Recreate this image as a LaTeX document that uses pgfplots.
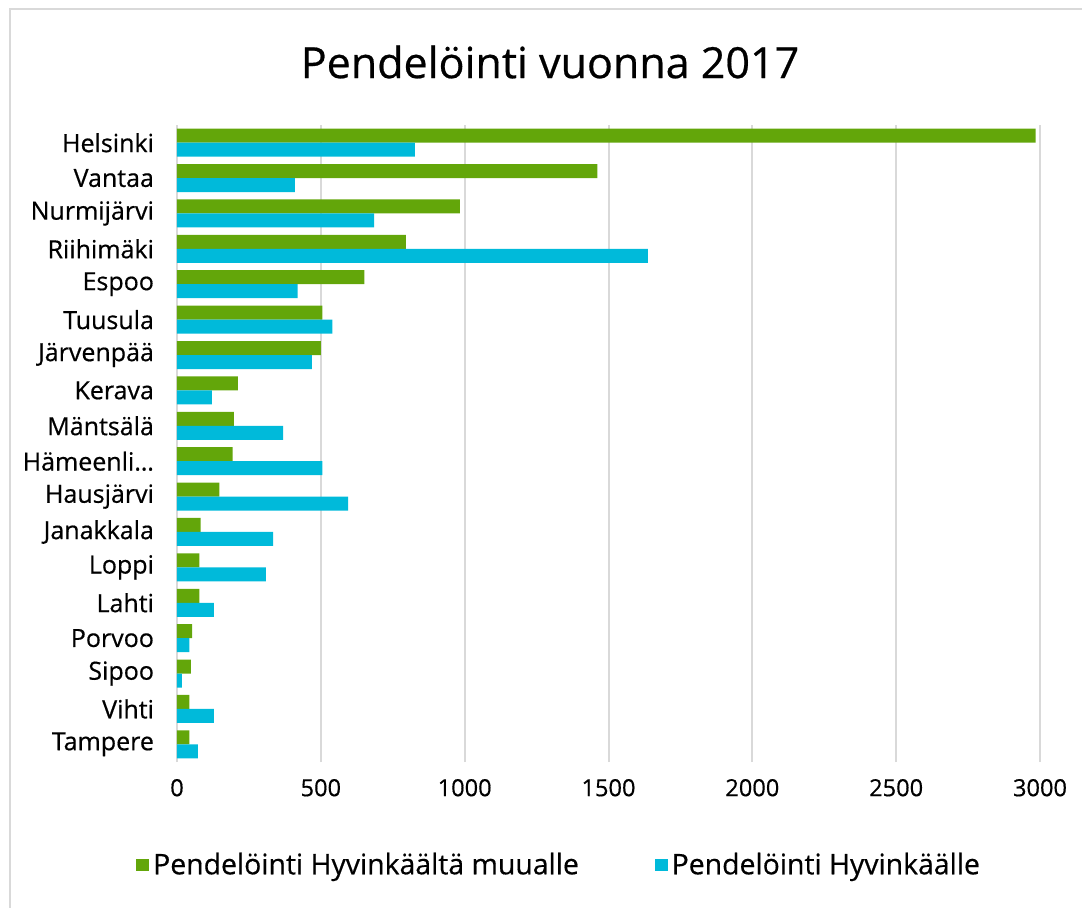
\documentclass[border=0pt]{standalone}
\usepackage{pgfplots}
\pgfplotsset{compat=1.18}
\usepackage{fontspec}
\setmainfont[FakeBold=0.5]{Open Sans}
\definecolor{cgreen}{RGB}{99,166,10}
\definecolor{ccyan}{RGB}{0,186,218}
\definecolor{cgrid}{RGB}{217,217,217}
\begin{document}
\begin{tikzpicture}
\useasboundingbox (0,0) rectangle (541pt,-454pt);
\draw[cgrid, line width=1pt] (5pt,-454pt) -- (5pt,-4.75pt) -- (541pt,-4.75pt);
\node[font=\fontsize{21.5}{25}\selectfont] at (275pt,-31pt) {Pendelöinti vuonna 2017};
\begin{axis}[
  at={(88.5pt,-381pt)}, anchor=south west,
  scale only axis, width=431.5pt, height=318.5pt,
  xmin=0, xmax=3000, ymin=-0.5, ymax=17.5,
  xtick={0,500,...,3000},
  ytick={0,...,17},
  yticklabels={Tampere,Vihti,Sipoo,Porvoo,Lahti,Loppi,Janakkala,Hausjärvi,Hämeenli…,Mäntsälä,Kerava,Järvenpää,Tuusula,Espoo,Riihimäki,Nurmijärvi,Vantaa,Helsinki},
  /pgf/number format/assume math mode=true,
  /pgf/number format/1000 sep={},
  xmajorgrids, major grid style={cgrid, line width=1pt},
  axis line style={draw=none},
  tick style={draw=none},
  major tick length=0pt,
  xticklabel style={font=\fontsize{11.8}{14}\selectfont, yshift=-5pt},
  yticklabel style={font=\fontsize{12.5}{15}\selectfont, xshift=-8pt},
  xbar, bar width=7pt,
  legend columns=2,
  legend style={at={(0.444,-0.1617)}, anchor=center, draw=none, fill=none,
    font=\fontsize{14.2}{17}\selectfont,
    /tikz/every even column/.append style={column sep=36pt}},
  legend image code/.code={\fill[#1] (0pt,-3.2pt) rectangle (6.4pt,3.2pt);},
]
\addplot[fill=cgreen, draw=none, bar shift=3.5pt] coordinates {
(43,0) (43,1) (48,2) (53,3) (78,4) (78,5) (82,6) (147,7) (193,8) (198,9)
(212,10) (500,11) (505,12) (651,13) (796,14) (983,15) (1461,16) (2985,17)};
\addlegendentry{Pendelöinti Hyvinkäältä muualle}
\addplot[fill=ccyan, draw=none, bar shift=-3.5pt] coordinates {
(73,0) (128,1) (17,2) (43,3) (128,4) (309,5) (334,6) (595,7) (505,8) (369,9)
(121,10) (469,11) (540,12) (419,13) (1637,14) (685,15) (410,16) (827,17)};
\addlegendentry{Pendelöinti Hyvinkäälle}
\end{axis}
\end{tikzpicture}
\end{document}
